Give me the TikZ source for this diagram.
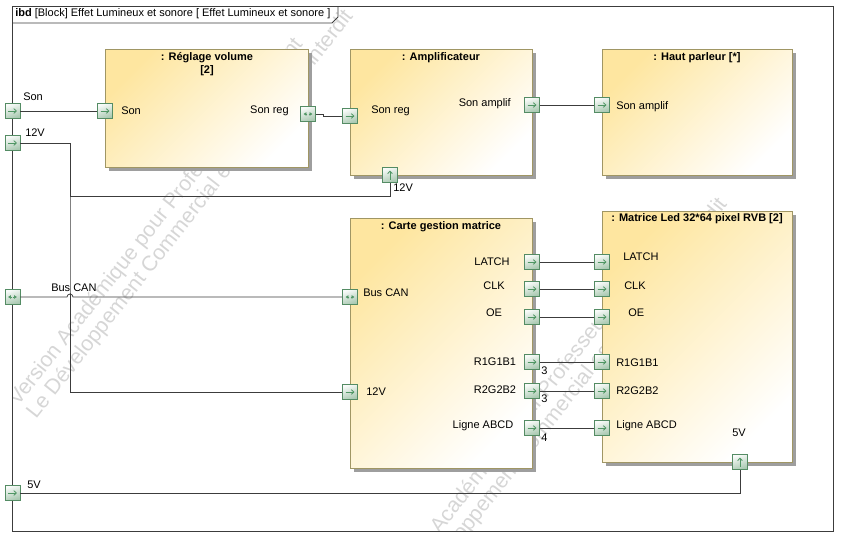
\documentclass[tikz,border=0pt]{standalone}
\usepackage{fontspec}
\setmainfont{Liberation Sans}
\usetikzlibrary{calc,arrows.meta,shadows}

\definecolor{blockedge}{RGB}{160,150,100}
\definecolor{blockfill}{RGB}{254,230,160}
\definecolor{portedge}{RGB}{84,140,100}
\definecolor{portfill}{RGB}{168,200,176}
\definecolor{portarrow}{RGB}{80,150,100}
\definecolor{wirecol}{RGB}{60,60,60}

\tikzset{
  txt/.style={font=\fontsize{8.25}{9.5}\selectfont, inner sep=0pt},
  ttl/.style={txt, font=\fontsize{8.25}{10}\selectfont\bfseries, align=center},
  wmark/.style={font=\fontsize{16}{17}\selectfont, text=black!16, inner sep=0pt, rotate=51.8, anchor=base west},
  wire/.style={draw=wirecol, line width=0.6pt},
  block/.style={draw=blockedge, line width=0.9pt, anchor=north west, inner sep=0pt,
    shading=axis, top color=blockfill, bottom color=white, shading angle=45,
    drop shadow={shadow xshift=2.25pt, shadow yshift=-2.25pt, fill=black!38, opacity=1}},
  portbox/.style={draw=portedge, line width=0.7pt, minimum size=11.25pt, inner sep=0pt,
    shading=axis, top color=white!92!portfill, bottom color=portfill, shading angle=20},
  parrow/.style={draw=portarrow, fill=portarrow, line width=0.6pt},
  portr/.style={portbox, path picture={\draw[parrow, -{Straight Barb[length=2pt,width=3.6pt]}]
    ($(path picture bounding box.west)!0.2!(path picture bounding box.east)$) --
    ($(path picture bounding box.west)!0.8!(path picture bounding box.east)$);}},
  portu/.style={portbox, path picture={\draw[parrow, -{Straight Barb[length=2pt,width=3.6pt]}]
    ($(path picture bounding box.south)!0.2!(path picture bounding box.north)$) --
    ($(path picture bounding box.south)!0.8!(path picture bounding box.north)$);}},
  portlr/.style={portbox, path picture={
    \draw[parrow, -{Latex[length=2.2pt,width=3pt]}]
    ($(path picture bounding box.west)!0.44!(path picture bounding box.east)$) --
    ($(path picture bounding box.west)!0.2!(path picture bounding box.east)$);
    \draw[parrow, -{Latex[length=2.2pt,width=3pt]}]
    ($(path picture bounding box.west)!0.56!(path picture bounding box.east)$) --
    ($(path picture bounding box.west)!0.8!(path picture bounding box.east)$);}}
}

\begin{document}
\begin{tikzpicture}[x=0.75pt,y=0.75pt,yscale=-1,xscale=1]
\useasboundingbox (0,0) rectangle (848,547);
%Watermark
\begin{scope}
\clip (12,6) rectangle (833,531);
\node[wmark] (wmA1) at (18,407) {Version Académique pour Professeur et Étudiant};
\node[wmark] (wmA2) at (36,420) {Le Développement Commercial est strictement interdit};
\node[wmark] (wmB1) at (392,595) {Version Académique pour Professeur et Étudiant};
\node[wmark] (wmB2) at (410,608) {Le Développement Commercial est strictement interdit};
\end{scope}
%Frame
\draw[wire] (12,6) rectangle (833,531);
\draw[wire] (12,23) -- (332,23) -- (338,17) -- (338,6);
\node[txt, anchor=west] (ftitle) at (15,14) {\textbf{ibd} [Block] Effet Lumineux et sonore [ Effet Lumineux et sonore ]};

%Blocks
\node[block, minimum width=152.25pt, minimum height=88.5pt] (rv) at (105,49) {};
\node[block, minimum width=136.5pt, minimum height=94.5pt] (amp) at (350,49) {};
\node[block, minimum width=142.5pt, minimum height=94.5pt] (hp) at (602,49) {};
\node[block, minimum width=136.5pt, minimum height=187.5pt] (cgm) at (350,218) {};
\node[block, minimum width=142.5pt, minimum height=188.25pt] (mat) at (602,211) {};
\node[ttl] (trv) at (207,64) {: Réglage volume\\{[}2{]}};
\node[ttl] (tamp) at (441,58) {: Amplificateur};
\node[ttl] (thp) at (697,58) {: Haut parleur [*]};
\node[ttl] (tcgm) at (441,227) {: Carte gestion matrice};
\node[ttl] (tmat) at (697,219) {: Matrice Led 32*64 pixel RVB [2]};

%Ports
\node[portr] (fSon) at (12.5,111) {};
\node[portr] (f12) at (12.5,143) {};
\node[portlr] (fCan) at (12.5,297) {};
\node[portr] (f5) at (12.5,493) {};
\node[portr] (rvSon) at (105,111) {};
\node[portlr] (rvReg) at (308,114) {};
\node[portr] (aIn) at (350,116) {};
\node[portr] (aOut) at (532,105) {};
\node[portu] (a12) at (390,175) {};
\node[portr] (hIn) at (602,105) {};
\node[portlr] (cCan) at (350,297) {};
\node[portr] (c12) at (350,392) {};
\node[portr] (cLatch) at (532,262) {};
\node[portr] (cClk) at (532,289) {};
\node[portr] (cOe) at (532,317) {};
\node[portr] (cR1) at (532,362) {};
\node[portr] (cR2) at (532,391) {};
\node[portr] (cLig) at (532,428) {};
\node[portr] (mLatch) at (602,262) {};
\node[portr] (mClk) at (602,289) {};
\node[portr] (mOe) at (602,317) {};
\node[portr] (mR1) at (602,362) {};
\node[portr] (mR2) at (602,391) {};
\node[portr] (mLig) at (602,428) {};
\node[portu] (m5) at (740,462) {};

%Port labels
\node[txt, anchor=west] (lfSon) at (23,97) {Son};
\node[txt, anchor=west] (lf12) at (25,133) {12V};
\node[txt, anchor=west] (lfCan) at (51,288) {Bus CAN};
\node[txt, anchor=west] (lf5) at (27,485) {5V};
\node[txt, anchor=west] (lrvSon) at (121,111) {Son};
\node[txt, anchor=east] (lrvReg) at (289,111) {Son reg};
\node[txt, anchor=west] (laIn) at (371,111) {Son reg};
\node[txt, anchor=east] (laOut) at (511,104) {Son amplif};
\node[txt, anchor=west] (la12) at (393,188) {12V};
\node[txt, anchor=west] (lhIn) at (616,107) {Son amplif};
\node[txt, anchor=west] (lcCan) at (363,293) {Bus CAN};
\node[txt, anchor=west] (lc12) at (366,392) {12V};
\node[txt] (lcLatch) at (492,262) {LATCH};
\node[txt] (lcClk) at (494,286) {CLK};
\node[txt] (lcOe) at (494,313) {OE};
\node[txt] (lcR1) at (495,362) {R1G1B1};
\node[txt] (lcR2) at (495,390) {R2G2B2};
\node[txt] (lcLig) at (483,426) {Ligne ABCD};
\node[txt, anchor=west] (lmLatch) at (623,257) {LATCH};
\node[txt, anchor=west] (lmClk) at (624,286) {CLK};
\node[txt, anchor=west] (lmOe) at (628,313) {OE};
\node[txt, anchor=west] (lmR1) at (616,363) {R1G1B1};
\node[txt, anchor=west] (lmR2) at (616,391) {R2G2B2};
\node[txt, anchor=west] (lmLig) at (616,426) {Ligne ABCD};
\node[txt] (lm5) at (739,433) {5V};
\node[txt, anchor=west] (nR1) at (541,371) {3};
\node[txt, anchor=west] (nR2) at (541,399) {3};
\node[txt, anchor=west] (nLig) at (541,438) {4};

%Connectors
\coordinate (t12) at (70,196);
\coordinate (canhop) at (67,297);
\draw[wire] (fSon.east) -- (rvSon.west);
\draw[wire] (rvReg.east) -- ++(7,0) |- (aIn.west);
\draw[wire] (aOut.east) -- (hIn.west);
\draw[wire] (f12.east) -| (t12) -| (a12.south);
\draw[wire] (f12.east) -| (t12) |- (c12.west);
\draw[wire] (fCan.east) -- (canhop) arc[start angle=180, end angle=360, radius=3] -- (cCan.west);
\draw[wire] (cLatch.east) -- (mLatch.west);
\draw[wire] (cClk.east) -- (mClk.west);
\draw[wire] (cOe.east) -- (mOe.west);
\draw[wire] (cR1.east) -- (mR1.west);
\draw[wire] (cR2.east) -- (mR2.west);
\draw[wire] (cLig.east) -- (mLig.west);
\draw[wire] (f5.east) -| (m5.south);
\end{tikzpicture}
\end{document}
